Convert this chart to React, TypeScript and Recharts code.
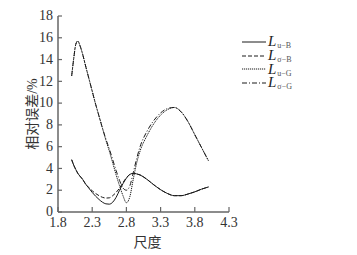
import { CartesianGrid, Legend, Line, LineChart, XAxis, YAxis } from "recharts";

const scales = [
  2.0, 2.03, 2.06, 2.09, 2.12, 2.16, 2.2, 2.25, 2.3, 2.35, 2.4, 2.45, 2.5, 2.55, 2.6, 2.65, 2.7,
  2.75, 2.8, 2.85, 2.9, 2.95, 3.0, 3.1, 3.2, 3.3, 3.4, 3.5, 3.6, 3.7, 3.8, 3.9, 4.0,
];

// L_u-B (solid)
const uB = [
  4.8, 4.3, 3.9, 3.55, 3.3, 3.0, 2.6, 2.2, 1.8, 1.45, 1.15, 0.9, 0.75, 0.72, 0.9, 1.35, 2.0,
  2.6, 3.1, 3.45, 3.55, 3.5, 3.4, 3.0, 2.5, 2.05, 1.7, 1.5, 1.5, 1.65, 1.85, 2.1, 2.3,
];

// L_σ-B (dashed)
const sigmaB = [
  4.8, 4.3, 3.9, 3.55, 3.3, 3.0, 2.6, 2.25, 1.95, 1.7, 1.5, 1.35, 1.28, 1.3, 1.5, 1.8, 2.2,
  2.7, 3.15, 3.45, 3.55, 3.5, 3.4, 3.0, 2.5, 2.05, 1.7, 1.5, 1.5, 1.65, 1.85, 2.1, 2.3,
];

// L_u-G (dotted)
const uG = [
  12.5, 14.1, 15.4, 15.7, 15.3, 14.5, 13.5, 12.3, 11.1, 9.9, 8.8, 7.7, 6.6, 5.6, 4.5, 3.4, 2.4,
  1.5, 0.85, 1.4, 3.0, 4.5, 5.6, 7.0, 8.1, 8.9, 9.4, 9.6, 9.2, 8.3, 7.1, 5.9, 4.7,
];

// L_σ-G (dash-dot)
const sigmaG = [
  12.5, 14.1, 15.4, 15.7, 15.3, 14.5, 13.5, 12.3, 11.1, 9.9, 8.8, 7.7, 6.7, 5.8, 4.8, 3.8, 2.9,
  2.2, 2.0, 2.4, 3.6, 4.9, 6.0, 7.4, 8.4, 9.1, 9.5, 9.6, 9.2, 8.3, 7.1, 5.9, 4.7,
];

const xTicks = [1.8, 2.3, 2.8, 3.3, 3.8, 4.3];
const yTicks = [0, 2, 4, 6, 8, 10, 12, 14, 16, 18];

const series = [
  { key: "uB", sub: "u−B", dash: undefined },
  { key: "sigmaB", sub: "σ−B", dash: "4 2" },
  { key: "uG", sub: "u−G", dash: "1.2 0.8" },
  { key: "sigmaG", sub: "σ−G", dash: "5 2 1 2" },
];

const data = scales.map((s, i) => ({
  scale: s,
  uB: uB[i],
  sigmaB: sigmaB[i],
  uG: uG[i],
  sigmaG: sigmaG[i],
}));

const FONT = "'Liberation Serif', 'Noto Sans CJK SC', serif";
const INK = "#1a1a1a";
const AXIS = "#666";

function XTick(props: any) {
  const { x, y, payload } = props;
  return (
    <g>
      <line x1={x} x2={x} y1={y - 4} y2={y - 9} stroke={AXIS} strokeWidth={1.2} />
      <text x={x} y={y + 1} dy="0.71em" textAnchor="middle" fontSize={14} fontFamily={FONT} fill="#333">
        {Number(payload.value).toFixed(1)}
      </text>
    </g>
  );
}

function YTick(props: any) {
  const { x, y, payload } = props;
  return (
    <g>
      <line x1={x + 5} x2={x + 9} y1={y} y2={y} stroke={AXIS} strokeWidth={1.2} />
      <text x={x} y={y} dy="0.3em" textAnchor="end" fontSize={14} fontFamily={FONT} fill="#333">
        {payload.value}
      </text>
    </g>
  );
}

function LegendBox() {
  return (
    <div style={{ fontFamily: FONT, color: "#222" }}>
      {series.map((s) => (
        <div key={s.key} style={{ display: "flex", alignItems: "center", height: 13.7 }}>
          <svg width={24} height={4} style={{ marginRight: 2 }}>
            <line x1={0} x2={24} y1={2} y2={2} stroke={INK} strokeWidth={1} strokeDasharray={s.dash} />
          </svg>
          <span style={{ fontStyle: "italic", fontSize: 15, lineHeight: "13px", paddingRight: 1 }}>L</span>
          <span style={{ fontSize: 8, lineHeight: "8px", marginTop: 9, color: "#555" }}>{s.sub}</span>
        </div>
      ))}
    </div>
  );
}

export default function App() {
  return (
    <div style={{ position: "absolute", left: 0, top: 0, width: 357, height: 255, background: "#fff" }}>
      <LineChart width={357} height={255} data={data} margin={{ top: 16, right: 28, left: 22, bottom: 5 }}>
        <CartesianGrid stroke="none" />
        <XAxis
          dataKey="scale"
          type="number"
          domain={[1.8, 4.3]}
          ticks={xTicks}
          interval={0}
          height={38}
          tickSize={0}
          tickMargin={4}
          tick={<XTick />}
          axisLine={{ stroke: AXIS, strokeWidth: 1.5 }}
          label={{
            value: "尺度",
            position: "insideBottom",
            offset: 3,
            dx: 4,
            fontSize: 14,
            fontFamily: FONT,
            fill: "#333",
          }}
        />
        <YAxis
          type="number"
          domain={[0, 18]}
          ticks={yTicks}
          interval={0}
          width={36}
          tickSize={0}
          tickMargin={5}
          tick={<YTick />}
          axisLine={{ stroke: AXIS, strokeWidth: 1.5 }}
          label={{
            value: "相对误差/%",
            angle: -90,
            position: "insideLeft",
            offset: 10,
            fontSize: 14,
            fontFamily: FONT,
            fill: "#333",
            style: { textAnchor: "middle" },
          }}
        />
        <Legend
          layout="vertical"
          verticalAlign="top"
          align="right"
          content={<LegendBox />}
          wrapperStyle={{ left: 242, top: 35, width: 100, right: "auto" }}
        />
        {series.map((s) => (
          <Line
            key={s.key}
            dataKey={s.key}
            type="monotone"
            stroke={INK}
            strokeWidth={1}
            strokeDasharray={s.dash}
            dot={false}
            activeDot={false}
            isAnimationActive={false}
          />
        ))}
      </LineChart>
    </div>
  );
}
